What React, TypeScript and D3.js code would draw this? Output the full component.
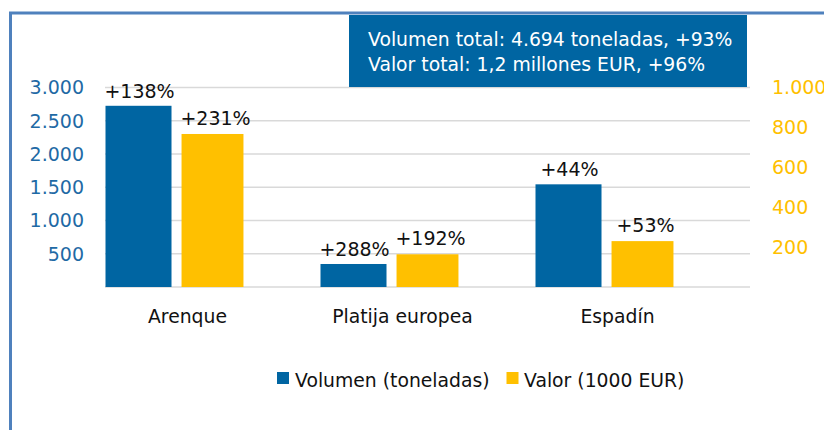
import React from "react";
import * as d3 from "d3";

const categories = ["Arenque", "Platija europea", "Espadín"];
const volumen = [2725, 346, 1544];
const valor = [767, 164, 230];
const volumenLabels = ["+138%", "+288%", "+44%"];
const valorLabels = ["+231%", "+192%", "+53%"];
const leftTicks = [500, 1000, 1500, 2000, 2500, 3000];
const rightTicks = [200, 400, 600, 800, 1000];
const titleLines = [
  "Volumen total: 4.694 toneladas, +93%",
  "Valor total: 1,2 millones EUR, +96%",
];
const legendItems = ["Volumen (toneladas)", "Valor (1000 EUR)"];

const BLUE = "#0065a2";
const YELLOW = "#ffc000";
const FONT = "'DejaVu Sans', sans-serif";

const fmt = (v: number) => d3.format(",")(v).replace(/,/g, ".");

export default function App() {
  const W = 824;
  const H = 430;
  const x = d3.scaleBand<string>().domain(categories).range([105, 750]).padding(0);
  const yL = d3.scaleLinear().domain([0, 3000]).range([287, 87.5]);
  const yR = d3.scaleLinear().domain([0, 1000]).range([287, 87.5]);
  const bw = x.bandwidth();
  const blueW = bw * 0.307;
  const yelW = bw * 0.288;

  return (
    <svg width={W} height={H} style={{ position: "absolute", left: 0, top: 0 }} fontFamily={FONT}>
      <rect x={0} y={0} width={W} height={H} fill="#fff" />
      {/* frame */}
      <line x1={10.5} y1={13} x2={10.5} y2={H} stroke="#4f81bd" strokeWidth={3} />
      <line x1={9} y1={13} x2={W} y2={13} stroke="#4f81bd" strokeWidth={3} />

      {/* gridlines */}
      {[0, ...leftTicks].map((t) => (
        <line key={t} x1={105} x2={750} y1={yL(t)} y2={yL(t)} stroke="#d9d9d9" strokeWidth={1.5} />
      ))}

      {/* left axis labels */}
      {leftTicks.map((t) => (
        <text key={t} x={84} y={yL(t)} dy="0.36em" textAnchor="end" fontSize={19} fill="#1f6aa5">
          {fmt(t)}
        </text>
      ))}
      {/* right axis labels */}
      {rightTicks.map((t) => (
        <text key={t} x={772} y={yR(t)} dy="0.36em" textAnchor="start" fontSize={19} fill={YELLOW}>
          {fmt(t)}
        </text>
      ))}

      {/* bars */}
      {categories.map((c, i) => {
        const bx = (x(c) as number) + 0.5;
        const yx = (x(c) as number) + bw / 2 - yelW / 2;
        return (
          <g key={c}>
            <rect x={bx} y={yL(volumen[i])} width={blueW} height={yL(0) - yL(volumen[i])} fill={BLUE} />
            <rect x={yx} y={yR(valor[i])} width={yelW} height={yR(0) - yR(valor[i])} fill={YELLOW} />
            <text x={bx + blueW / 2 + 1} y={yL(volumen[i]) - 8} textAnchor="middle" fontSize={19} fill="#111">
              {volumenLabels[i]}
            </text>
            <text x={yx + yelW / 2 + 3} y={yR(valor[i]) - 9} textAnchor="middle" fontSize={19} fill="#111">
              {valorLabels[i]}
            </text>
            <text x={(x(c) as number) + bw / 2 - 25} y={323} textAnchor="middle" fontSize={18.8} fill="#111">
              {c}
            </text>
          </g>
        );
      })}

      {/* title box */}
      <rect x={349} y={15} width={398} height={72} fill={BLUE} />
      {titleLines.map((t, i) => (
        <text key={i} x={368} y={46 + i * 25} fontSize={18.8} fill="#fff">
          {t}
        </text>
      ))}

      {/* legend */}
      <rect x={277} y={372} width={12} height={12} fill={BLUE} />
      <text x={295} y={386.5} fontSize={18.8} fill="#111">{legendItems[0]}</text>
      <rect x={506.5} y={372} width={12} height={12} fill={YELLOW} />
      <text x={524} y={386.5} fontSize={18.8} fill="#111">{legendItems[1]}</text>
    </svg>
  );
}
